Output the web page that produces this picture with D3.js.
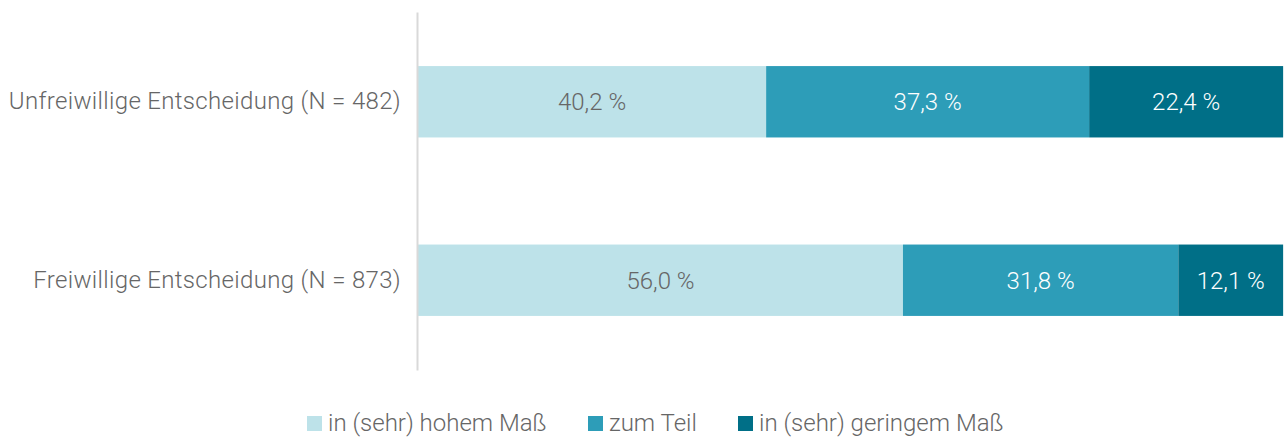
<!DOCTYPE html>
<html>
<head>
<meta charset="utf-8">
<script src="https://cdn.jsdelivr.net/npm/d3@7"></script>
<style>
  body { margin: 0; background: #fff; }
  text { font-family: Roboto, "Open Sans", sans-serif; font-weight: 300; }
</style>
</head>
<body>
<script>
var categories = ["Unfreiwillige Entscheidung (N = 482)", "Freiwillige Entscheidung (N = 873)"];
var seriesNames = ["in (sehr) hohem Maß", "zum Teil", "in (sehr) geringem Maß"];
var hoch = [40.2, 56.0];
var teil = [37.3, 31.8];
var gering = [22.4, 12.1];
var colors = ["#bde2e9", "#2d9db8", "#006f87"];
var labelColors = ["#666666", "#ffffff", "#ffffff"];

var width = 1285, height = 437;
var series = [hoch, teil, gering];
var fontSize = 24;

var svg = d3.select("body").append("svg")
    .attr("width", width)
    .attr("height", height);

var x = d3.scaleLinear().domain([0, 100]).range([418, 1284]);
var y = d3.scaleBand().domain(categories).range([12, 370])
    .paddingInner(0.6).paddingOuter(0.303);

// stack the values per category
var rows = categories.map(function(c, i) {
    var start = 0;
    return series.map(function(s, k) {
        var seg = {cat: c, k: k, v: s[i], x0: start, x1: start + s[i]};
        start += s[i];
        return seg;
    });
});

var fmt = function(v) { return d3.format(".1f")(v).replace(".", ",") + " %"; };

var g = svg.selectAll("g.row").data(rows).enter()
    .append("g")
    .attr("class", "row");

g.selectAll("rect").data(d => d).enter()
    .append("rect")
    .attr("x", d => x(d.x0))
    .attr("width", d => x(d.x1) - x(d.x0))
    .attr("y", d => y(d.cat))
    .attr("height", y.bandwidth())
    .attr("fill", d => colors[d.k]);

g.selectAll("text").data(d => d).enter()
    .append("text")
    .attr("x", d => (x(d.x0) + x(d.x1)) / 2)
    .attr("y", d => y(d.cat) + y.bandwidth() / 2)
    .attr("dy", "0.35em")
    .attr("text-anchor", "middle")
    .attr("font-size", fontSize)
    .attr("fill", d => labelColors[d.k])
    .text(d => fmt(d.v));

// category axis
var yAxis = d3.axisLeft(y).tickSize(0).tickPadding(16);
var ax = svg.append("g")
    .attr("transform", "translate(417,0)")
    .call(yAxis);
ax.select(".domain").attr("stroke", "#d9d9d9").attr("stroke-width", 2);
ax.selectAll(".tick text")
    .attr("font-size", fontSize)
    .attr("fill", "#666666")
    .style("font-family", "Roboto, sans-serif")
    .style("font-weight", 300)
    .style("letter-spacing", "0.33px");

// legend
var legendX = [307, 588, 738];
var leg = svg.selectAll("g.legend").data(seriesNames).enter()
    .append("g")
    .attr("class", "legend")
    .attr("transform", (d, i) => "translate(" + legendX[i] + ",416)");
leg.append("rect")
    .attr("width", 15)
    .attr("height", 15)
    .attr("fill", (d, i) => colors[i]);
leg.append("text")
    .attr("x", 21)
    .attr("y", 7)
    .attr("dy", "0.35em")
    .attr("font-size", fontSize)
    .attr("fill", "#666666")
    .text(d => d);
</script>
</body>
</html>
